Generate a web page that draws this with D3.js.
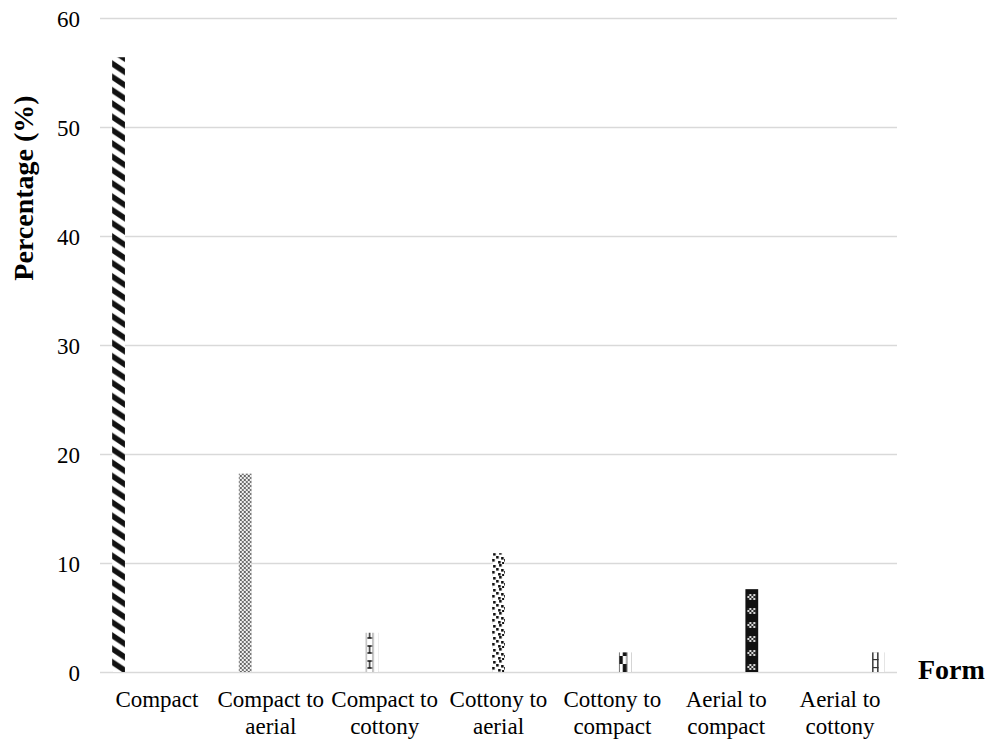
<!DOCTYPE html>
<html>
<head>
<meta charset="utf-8">
<script src="https://cdn.jsdelivr.net/npm/d3@7"></script>
<style>
  html, body { margin: 0; padding: 0; background: #fff; }
  svg { display: block; }
  text { font-family: "Liberation Serif", "Times New Roman", serif; fill: #000; }
</style>
</head>
<body>
<svg id="chart" width="988" height="740"></svg>
<script>
// Colony form categories and the share of isolates in each (%)
const categories = ["Compact", "Compact to aerial", "Compact to cottony", "Cottony to aerial",
                    "Cottony to compact", "Aerial to compact", "Aerial to cottony"];
const categoryLines = [["Compact"], ["Compact to", "aerial"], ["Compact to", "cottony"],
                       ["Cottony to", "aerial"], ["Cottony to", "compact"],
                       ["Aerial to", "compact"], ["Aerial to", "cottony"]];
const percentages = [56.4, 18.2, 3.6, 10.9, 1.8, 7.6, 1.8];
const yTicks = [0, 10, 20, 30, 40, 50, 60];

const svg = d3.select("#chart");
const margin = { left: 100, right: 91, top: 18, bottom: 68 };
const W = 988, H = 740;

const x = d3.scaleBand().domain(categories).range([margin.left, W - margin.right]).padding(0);
// each category holds one slot per series (clustered layout), only one of which is filled
const slot = d3.scaleBand().domain(d3.range(categories.length)).range([0, x.bandwidth()])
  .paddingInner(0).paddingOuter(0.95);
const y = d3.scaleLinear().domain([0, 60]).range([H - margin.bottom, margin.top]);

const barX = i => x(categories[i]) + slot(i);
const bw = slot.bandwidth();

// ---- fill patterns (tiles anchored on each bar's left edge) ----
const defs = svg.append("defs");
function pattern(id, w, h, ox, build) {
  const p = defs.append("pattern").attr("id", id).attr("patternUnits", "userSpaceOnUse")
    .attr("x", ox).attr("y", y(0)).attr("width", w).attr("height", h);
  build(p);
  return p;
}
// 0: wide dark diagonal stripes running down to the right (seamless 20x13.3 tile)
pattern("p0", 20, 13.3, barX(0), p => {
  p.append("rect").attr("width", 20).attr("height", 13.3).attr("fill", "#fff");
  p.append("path").attr("d", "M0,0L20,13.3H10L0,6.65ZM10,0H20V6.65Z").attr("fill", "#111");
});
// 1: grey diamond lattice
pattern("p1", 4, 4, barX(1), p => {
  p.append("rect").attr("width", 4).attr("height", 4).attr("fill", "#f0f0f0");
  p.append("rect").attr("x", 1).attr("y", 0).attr("width", 2).attr("height", 1).attr("fill", "#666");
  p.append("rect").attr("x", 0).attr("y", 1).attr("width", 1).attr("height", 2).attr("fill", "#777");
  p.append("rect").attr("x", 3).attr("y", 1).attr("width", 1).attr("height", 2).attr("fill", "#777");
  p.append("rect").attr("x", 1).attr("y", 3).attr("width", 2).attr("height", 1).attr("fill", "#666");
});
// 2: I-beam marks between thin grey rails
pattern("p2", bw, 15, barX(2), p => {
  p.append("rect").attr("width", bw).attr("height", 15).attr("fill", "#fff");
  p.append("rect").attr("x", 0).attr("width", 1.2).attr("height", 15).attr("fill", "#999");
  p.append("rect").attr("x", 7).attr("width", 1.2).attr("height", 15).attr("fill", "#999");
  p.append("path").attr("d", "M2,4H6.5M4.25,4V11M2,11H6.5").attr("stroke", "#111").attr("stroke-width", 1.3).attr("fill", "none");
});
// 3: confetti squares
pattern("p3", 12, 12, barX(3), p => {
  p.append("rect").attr("width", 12).attr("height", 12).attr("fill", "#fff");
  [[1, 1], [7, 0], [4, 4], [9, 5], [0, 7], [6, 9], [10, 10]].forEach(([a, b]) =>
    p.append("rect").attr("x", a).attr("y", b).attr("width", 2.6).attr("height", 2.6).attr("fill", "#111"));
});
// 4: large checker
pattern("p4", bw, 16, barX(4), p => {
  p.append("rect").attr("width", bw).attr("height", 16).attr("fill", "#fff");
  p.append("rect").attr("x", 0).attr("y", 0).attr("width", 4).attr("height", 8).attr("fill", "#111");
  p.append("rect").attr("x", 4).attr("y", 8).attr("width", 4).attr("height", 8).attr("fill", "#111");
  p.append("rect").attr("x", 0).attr("width", 1).attr("height", 16).attr("fill", "#555");
  p.append("rect").attr("x", 7.5).attr("width", 1).attr("height", 16).attr("fill", "#555");
});
// 5: dark fill with small checker blocks
pattern("p5", bw, 14, barX(5), p => {
  p.append("rect").attr("width", bw).attr("height", 14).attr("fill", "#111");
  p.append("rect").attr("x", 2).attr("y", 6).attr("width", 8).attr("height", 6).attr("fill", "#ddd");
  for (let r = 0; r < 3; r++) for (let c = 0; c < 4; c++)
    if ((r + c) % 2 === 0) p.append("rect").attr("x", 2 + c * 2).attr("y", 6 + r * 2)
      .attr("width", 2).attr("height", 2).attr("fill", "#222");
});
// 6: ladder rungs
pattern("p6", bw, 8, barX(6), p => {
  p.append("rect").attr("width", bw).attr("height", 8).attr("fill", "#fff");
  p.append("rect").attr("x", 0).attr("width", 1.5).attr("height", 8).attr("fill", "#333");
  p.append("rect").attr("x", 5).attr("width", 1.5).attr("height", 8).attr("fill", "#333");
  p.append("rect").attr("x", 0).attr("y", 3).attr("width", 6.5).attr("height", 1.2).attr("fill", "#333");
});

// ---- gridlines ----
svg.append("g").selectAll("line").data(yTicks).join("line")
  .attr("x1", margin.left).attr("x2", W - margin.right)
  .attr("y1", d => Math.round(y(d)) + 0.5).attr("y2", d => Math.round(y(d)) + 0.5)
  .attr("stroke", "#d9d9d9").attr("stroke-width", 1.3);

// ---- y axis labels ----
const yAxis = svg.append("g").attr("transform", `translate(${margin.left - 20},0)`)
  .call(d3.axisLeft(y).tickValues(yTicks).tickSize(0).tickPadding(0));
yAxis.select(".domain").remove();
yAxis.selectAll("text").attr("font-size", 23).attr("font-family", "Liberation Serif").attr("dy", "0.35em");

// ---- bars ----
svg.append("g").selectAll("rect").data(percentages).join("rect")
  .attr("x", (d, i) => barX(i)).attr("width", bw)
  .attr("y", d => y(d)).attr("height", d => y(0) - y(d))
  .attr("fill", (d, i) => `url(#p${i})`);

// ---- x category labels ----
const xg = svg.append("g");
categoryLines.forEach((lines, i) => {
  const cx = x(categories[i]) + x.bandwidth() / 2;
  const t = xg.append("text").attr("text-anchor", "middle").attr("font-size", 23)
    .attr("x", cx).attr("y", 707);
  lines.forEach((s, k) => t.append("tspan").attr("x", cx).attr("dy", k === 0 ? 0 : 27).text(s));
});

// ---- axis titles ----
svg.append("text").attr("transform", "translate(33,188) rotate(-90)").attr("text-anchor", "middle")
  .attr("font-size", 28).attr("font-weight", "bold").text("Percentage (%)");
svg.append("text").attr("x", 918).attr("y", 679).attr("font-size", 28).attr("font-weight", "bold").text("Form");
</script>
</body>
</html>
